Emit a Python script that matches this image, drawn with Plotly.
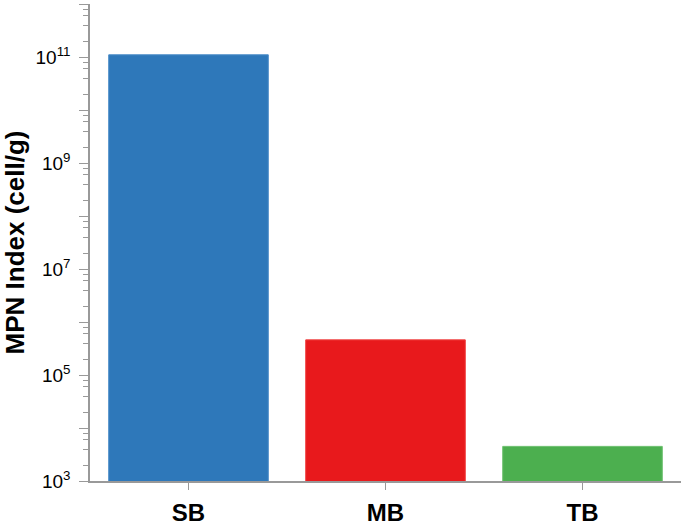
import plotly.graph_objects as go

categories = ["SB", "MB", "TB"]
mpn_values = [1.1e11, 4.6e5, 4.5e3]
bar_colors = ["#2E78BA", "#E8191C", "#4CAF4F"]
line_colors = ["#4A8CC8", "#F04040", "#6CC06E"]

major_exps = list(range(3, 13))
major_vals = [10 ** e for e in major_exps]
major_text = [f"10<sup>{e}</sup>" if e % 2 == 1 and e < 12 else "" for e in major_exps]
minor_vals = [k * 10 ** e for e in range(3, 12) for k in (2, 4, 6, 8)]

fig = go.Figure(go.Bar(
    x=categories, y=mpn_values,
    marker=dict(color=bar_colors, line=dict(color=line_colors, width=1)),
    width=0.81,
))

fig.update_layout(
    width=685, height=527,
    margin=dict(l=90, r=4, t=4, b=46),
    plot_bgcolor="white", paper_bgcolor="white",
    showlegend=False,
    font=dict(family="Liberation Sans, Arial", color="black"),
)
fig.update_xaxes(
    showline=True, linecolor="#999999", linewidth=1.5,
    ticks="outside", ticklen=7, tickcolor="#999999",
    tickfont=dict(size=24, family="Liberation Sans, Arial", weight="bold"),
    ticklabelstandoff=2, automargin=False,
    range=[-0.5, 2.5], showgrid=False,
)
fig.update_yaxes(
    type="log", range=[3, 12],
    showline=True, linecolor="#999999", linewidth=1.5,
    ticks="outside", ticklen=9, tickcolor="#999999",
    tickvals=major_vals, ticktext=major_text,
    tickfont=dict(size=19), ticklabelstandoff=5, automargin=False,
    minor=dict(tickvals=minor_vals, ticks="outside", ticklen=5, tickcolor="#999999", showgrid=False),
    showgrid=False, zeroline=False,
    title=dict(text="MPN Index (cell/g)", font=dict(size=26, weight="bold"), standoff=8),
)

fig.write_html("out.html", config={"displayModeBar": False},
               post_script="document.body.style.margin='0';document.body.style.padding='0';")
